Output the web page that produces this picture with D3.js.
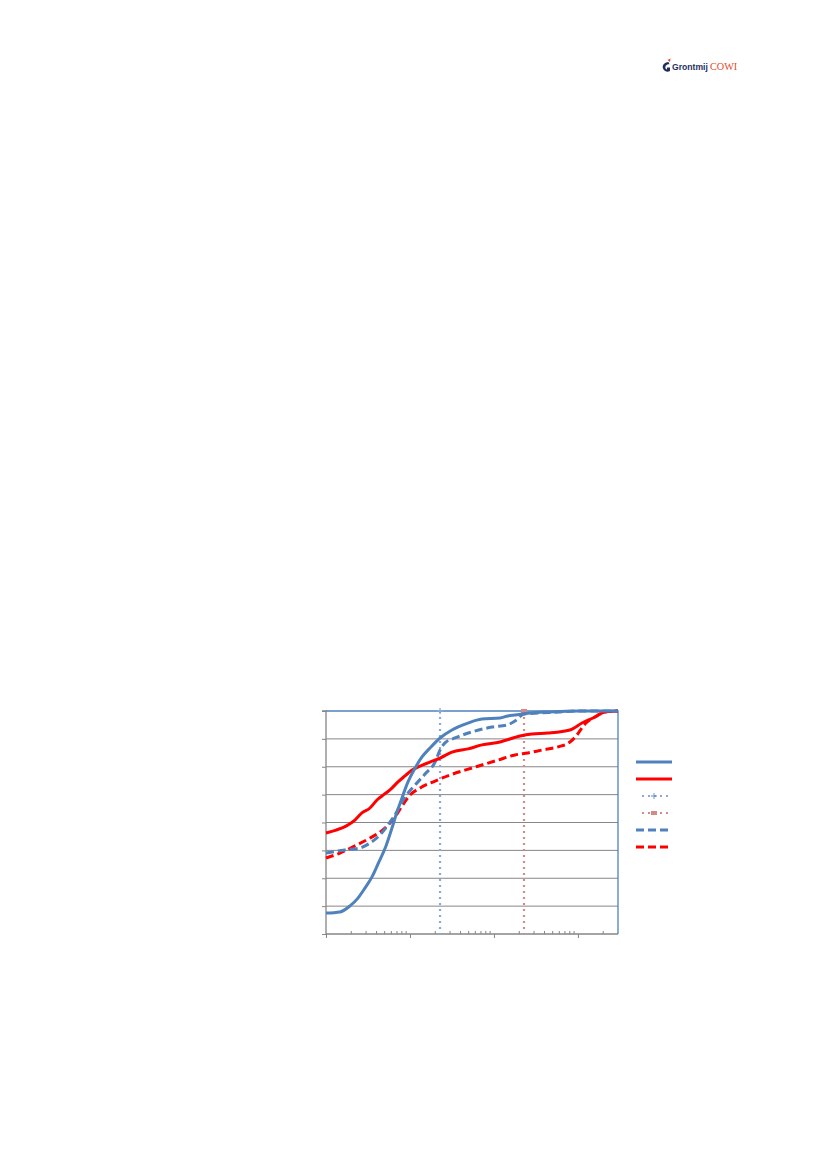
<!DOCTYPE html>
<html>
<head>
<meta charset="utf-8">
<script src="https://cdn.jsdelivr.net/npm/d3@7/dist/d3.min.js"></script>
<style>
  html, body { margin: 0; padding: 0; background: #ffffff; }
  svg { display: block; }
</style>
</head>
<body>
<script>
// ---------------- DATA ----------------
// x: size (log scale), y: cumulative percentage
const blueSolidX  = [1, 1.47, 1.93, 2.40, 2.91, 3.53, 4.27, 5.18, 6.10, 7.00, 8.03, 9.47, 11.5, 13.9, 17.3, 22.8, 31.6, 49.0, 71.9, 118, 147, 178, 268, 464, 1057, 3000];
const blueSolidY  = [9.4, 9.9, 12.6, 16.1, 20.6, 25.6, 32.3, 39.5, 47.5, 54.7, 61.0, 68.2, 74.4, 79.4, 83.4, 87.9, 91.5, 94.6, 96.4, 96.9, 97.8, 98.2, 99.1, 99.6, 100, 100];

const redSolidX   = [1, 1.32, 1.73, 2.21, 2.68, 3.34, 4.05, 4.64, 5.78, 7.20, 8.72, 10.6, 13.2, 17.3, 22.8, 31.6, 49.0, 71.9, 118, 204, 283, 439, 803, 1117, 1594, 2094, 3000];
const redSolidY   = [45.3, 46.6, 48.4, 51.1, 54.3, 56.5, 60.1, 61.9, 64.6, 68.2, 70.9, 73.5, 75.3, 77.1, 78.9, 81.6, 83.0, 84.8, 86.1, 88.8, 89.7, 90.1, 91.5, 94.6, 97.3, 99.6, 100];

const blueDashX   = [1, 1.68, 2.54, 3.34, 4.39, 5.47, 6.63, 8.72, 11.5, 15.1, 19.9, 22.8, 26.1, 34.3, 54.7, 94.7, 143, 178, 228, 353, 611, 1057, 3000];
const blueDashY   = [36.3, 37.7, 38.6, 40.8, 44.4, 48.9, 53.4, 61.4, 66.8, 71.7, 77.1, 82.5, 85.7, 87.9, 90.6, 92.8, 93.7, 95.5, 98.7, 99.1, 99.6, 100, 100];

const redDashX    = [1, 1.47, 2.21, 3.34, 5.04, 6.63, 8.03, 10, 13.2, 19.9, 29.9, 45.2, 71.9, 112, 178, 254, 373, 578, 803, 973, 1117, 1245, 1594, 2094, 3000];
const redDashY    = [34.1, 36.3, 39.5, 43.0, 47.5, 52.5, 57.4, 62.3, 65.5, 68.6, 71.3, 73.5, 75.8, 78.0, 80.3, 81.2, 82.5, 83.9, 86.1, 89.2, 92.4, 94.6, 97.3, 99.6, 100];

// vertical reference lines (x positions)
const refBlueX = 22.8;
const refRedX  = 228;

const yTicks = [0, 12.5, 25, 37.5, 50, 62.5, 75, 87.5, 100];
const xMajorTicks = [10, 100, 1000];
const minorMultipliers = [2, 3, 4, 5, 6, 7, 8, 9];
const decades = [1, 10, 100, 1000];

// ---------------- DRAW ----------------
const W = 827, H = 1170;
const svg = d3.select("body").append("svg").attr("width", W).attr("height", H);

const x = d3.scaleLog().domain([1, 3000]).range([326, 618]);
const y = d3.scaleLinear().domain([0, 100]).range([934, 711]);

const BLUE = "#4F81BD", RED = "#FF0000", GRID = "#868686";
const BLUE_DOT = "#8AA8D8", RED_DOT = "#D48A88";

// Logo
const logo = svg.append("g");
logo.append("path")
  .attr("d", "M668.5,62 C664,62.5 662,65.5 663,68.5 C664,71.5 667.5,72.5 670,71 L670,67.5 L667,67.5 L667,69.5 C665.5,69.5 664.8,67.5 665.8,65.8 C666.6,64.5 668,64 669.5,64.3 Z")
  .attr("fill", "#1F2F5F");
logo.append("path")
  .attr("d", "M667.5,60 L670.5,58.5 L670,62 Z")
  .attr("fill", "#E2492A");
logo.append("text")
  .attr("x", 672).attr("y", 70)
  .attr("font-family", "Liberation Sans, Arial, sans-serif")
  .attr("font-weight", "bold").attr("font-size", 8.6)
  .attr("fill", "#1F2F5F")
  .text("Grontmij");
logo.append("text")
  .attr("x", 710).attr("y", 70)
  .attr("font-family", "Liberation Serif, Times New Roman, serif")
  .attr("font-size", 10.2)
  .attr("fill", "#E2492A")
  .text("COWI");

// Plot area background
svg.append("rect")
  .attr("x", x(1)).attr("y", y(100))
  .attr("width", x(3000) - x(1)).attr("height", y(0) - y(100))
  .attr("fill", "#ffffff");

// Horizontal gridlines
svg.append("g").selectAll("line").data(yTicks.filter(d => d > 0 && d < 100)).join("line")
  .attr("x1", x(1)).attr("x2", x(3000))
  .attr("y1", d => y(d)).attr("y2", d => y(d))
  .attr("stroke", GRID).attr("stroke-width", 1);

// Border top/right (blue)
svg.append("path")
  .attr("d", `M${x(1)},${y(100)} H${x(3000)} V${y(0)}`)
  .attr("fill", "none").attr("stroke", BLUE).attr("stroke-width", 1.3);

// Y axis
const yAxis = d3.axisLeft(y).tickValues(yTicks).tickSize(4).tickFormat("");
const gy = svg.append("g").attr("transform", `translate(${x(1)},0)`).call(yAxis);
gy.select(".domain").attr("stroke", GRID).attr("stroke-width", 1.3).attr("d", `M-4,${y(100)}H0V${y(0)}`);
gy.selectAll(".tick line").attr("stroke", GRID).attr("stroke-width", 1);

// X axis (log) - major ticks downward
const xAxis = d3.axisBottom(x).tickValues([1].concat(xMajorTicks)).tickSize(4).tickFormat("");
const gx = svg.append("g").attr("transform", `translate(0,${y(0)})`).call(xAxis);
gx.select(".domain").attr("stroke", GRID).attr("stroke-width", 1.3).attr("d", `M${x(1)},0H${x(3000)}`);
gx.selectAll(".tick line").attr("stroke", GRID).attr("stroke-width", 1);

// Minor ticks upward
const minorVals = [];
decades.forEach(dd => minorMultipliers.forEach(m => { const v = dd * m; if (v < 3000) minorVals.push(v); }));
svg.append("g").selectAll("line").data(minorVals).join("line")
  .attr("x1", d => x(d)).attr("x2", d => x(d))
  .attr("y1", y(0)).attr("y2", y(0) - 3)
  .attr("stroke", GRID).attr("stroke-width", 1);

// Vertical dotted reference lines
svg.append("line")
  .attr("x1", x(refBlueX)).attr("x2", x(refBlueX))
  .attr("y1", y(100)).attr("y2", y(0))
  .attr("stroke", BLUE_DOT).attr("stroke-width", 2.2).attr("stroke-dasharray", "2,4");
svg.append("line")
  .attr("x1", x(refRedX)).attr("x2", x(refRedX))
  .attr("y1", y(100)).attr("y2", y(0))
  .attr("stroke", RED_DOT).attr("stroke-width", 2.2).attr("stroke-dasharray", "2,4");
// markers at top
svg.append("path")
  .attr("d", `M${x(refBlueX) - 3},${y(100)}H${x(refBlueX) + 3}M${x(refBlueX)},${y(100) - 3}V${y(100) + 3}`)
  .attr("stroke", BLUE_DOT).attr("stroke-width", 1.3);
svg.append("rect")
  .attr("x", x(refRedX) - 3).attr("y", y(100) - 2)
  .attr("width", 6).attr("height", 4)
  .attr("fill", RED_DOT);

// Series
const series = [
  { xs: redDashX,   ys: redDashY,   color: RED,  dash: "8,4" },
  { xs: blueDashX,  ys: blueDashY,  color: BLUE, dash: "8,4" },
  { xs: redSolidX,  ys: redSolidY,  color: RED,  dash: null },
  { xs: blueSolidX, ys: blueSolidY, color: BLUE, dash: null }
];
const line = d3.line().x(d => x(d[0])).y(d => y(d[1])).curve(d3.curveMonotoneX);
series.forEach(s => {
  const pts = s.xs.map((v, i) => [v, s.ys[i]]);
  svg.append("path")
    .attr("d", line(pts))
    .attr("fill", "none")
    .attr("stroke", s.color)
    .attr("stroke-width", 3)
    .attr("stroke-linejoin", "round")
    .attr("stroke-dasharray", s.dash);
});

// Legend (no labels in reference)
const legendItems = [
  { type: "line", color: BLUE, dash: null },
  { type: "line", color: RED, dash: null },
  { type: "dotPlus", color: BLUE_DOT },
  { type: "dotSquare", color: RED_DOT },
  { type: "line", color: BLUE, dash: "8,4" },
  { type: "line", color: RED, dash: "8,4" }
];
const lg = svg.append("g");
const lx0 = 636, lx1 = 672, ly0 = 762, lstep = 17;
legendItems.forEach((it, i) => {
  const yy = ly0 + i * lstep;
  if (it.type === "line") {
    lg.append("line").attr("x1", lx0).attr("x2", lx1).attr("y1", yy).attr("y2", yy)
      .attr("stroke", it.color).attr("stroke-width", 3).attr("stroke-dasharray", it.dash);
  } else {
    lg.append("line").attr("x1", lx0 + 6).attr("x2", lx1).attr("y1", yy).attr("y2", yy)
      .attr("stroke", it.color).attr("stroke-width", 2.2).attr("stroke-dasharray", "2,4");
    const cx = (lx0 + lx1) / 2;
    if (it.type === "dotPlus") {
      lg.append("path").attr("d", `M${cx - 3},${yy}H${cx + 3}M${cx},${yy - 3}V${yy + 3}`)
        .attr("stroke", BLUE).attr("stroke-opacity", 0.6).attr("stroke-width", 1.3);
    } else {
      lg.append("rect").attr("x", cx - 3).attr("y", yy - 2).attr("width", 6).attr("height", 4)
        .attr("fill", it.color);
    }
  }
});
</script>
</body>
</html>
